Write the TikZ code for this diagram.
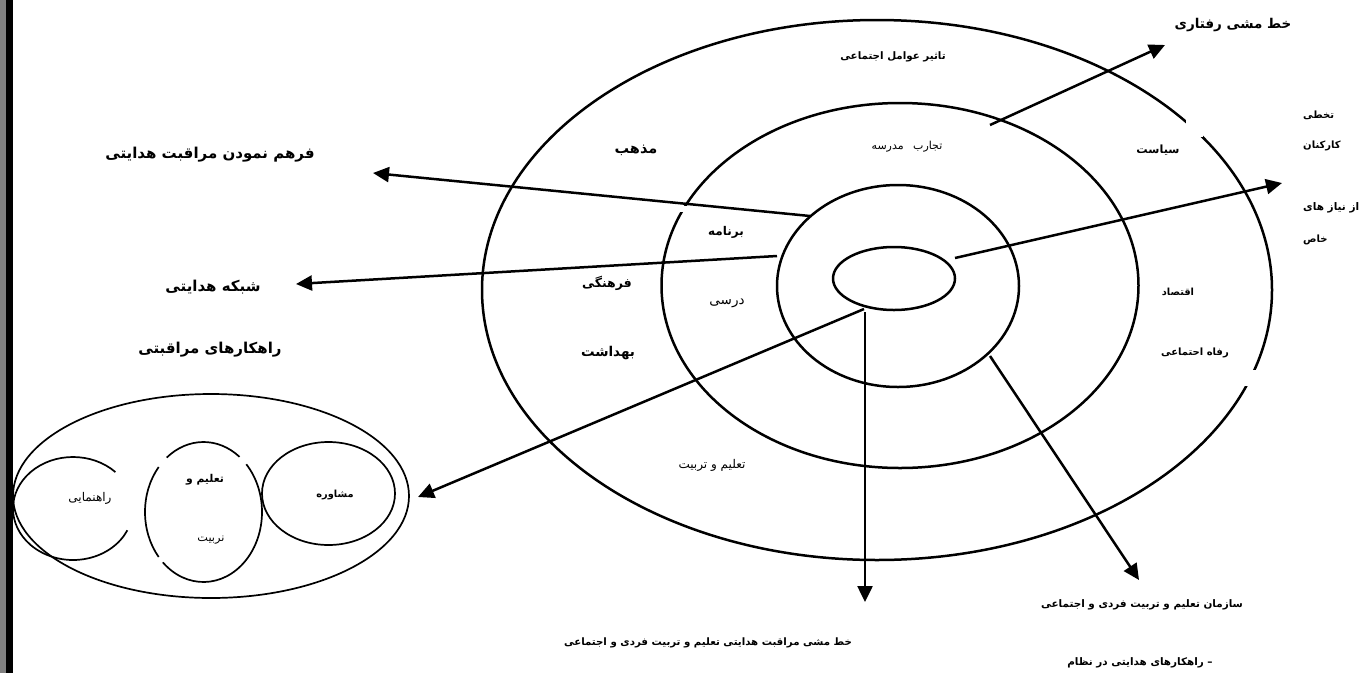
\documentclass[tikz,border=0pt]{standalone}
\usepackage{fontspec}
\usetikzlibrary{arrows.meta,shapes.geometric}
\newfontfamily\arabicfont[Script=Arabic]{DejaVu Sans}
\TeXXeTstate=1
\tikzset{
  ring/.style={draw, ellipse, line width=2.5pt, inner sep=0pt, outer sep=0pt},
  thin ring/.style={draw, ellipse, line width=1.7pt, inner sep=0pt, outer sep=0pt},
  thin arc/.style={line width=1.7pt},
  arr/.style={line width=2.5pt, -{Triangle[length=16pt,width=15pt]}},
  bl/.style={font=\arabicfont\fontsize{#1}{#1}\selectfont\bfseries, inner sep=1pt},
  nl/.style={font=\arabicfont\fontsize{#1}{#1}\selectfont, inner sep=1pt},
}
\begin{document}
\begin{tikzpicture}[x=1pt,y=-1pt]
\useasboundingbox (0,0) rectangle (1361,673);
\fill[white] (0,0) rectangle (1361,673);
% left border bars
\fill[gray] (0,0) rectangle (6,673);
\fill[black] (6,0) rectangle (13,673);

% concentric ellipses
\node[ring, minimum width=790pt, minimum height=540pt] (outer) at (877,290) {};
\node[ring, minimum width=477pt, minimum height=365pt] (middle) at (900,285.5) {};
\node[ring, minimum width=242pt, minimum height=202pt] (inner) at (898,286) {};
\node[ring, minimum width=122pt, minimum height=63pt] (core) at (894,278.5) {};
% gaps
\fill[white] (1186,120) rectangle (1203,137);
\fill[white] (1243,370) rectangle (1262,386);
\fill[white] (678,206) rectangle (694,212);

% left group
\node[thin ring, minimum width=396pt, minimum height=204pt] (group) at (211,496) {};
\draw[thin arc] ([shift={(45:60pt and 51.5pt)}]73,508.5) arc[start angle=45, end angle=335, x radius=60pt, y radius=51.5pt];
\draw[thin arc] ([shift={(52:58.5pt and 70pt)}]203.5,512) arc[start angle=52, end angle=129, x radius=58.5pt, y radius=70pt];
\draw[thin arc] ([shift={(140:58.5pt and 70pt)}]203.5,512) arc[start angle=140, end angle=220, x radius=58.5pt, y radius=70pt];
\draw[thin arc] ([shift={(226:58.5pt and 70pt)}]203.5,512) arc[start angle=226, end angle=403, x radius=58.5pt, y radius=70pt];
\node[thin ring, minimum width=133pt, minimum height=103pt] (moshcirc) at (328.5,493.5) {};

% arrow end points
\coordinate (s1) at (810,216);  \coordinate (e1) at (373,173);
\coordinate (s2) at (777,256);  \coordinate (e2) at (296,284);
\coordinate (s3) at (864,309);  \coordinate (e3) at (418,497);
\coordinate (s4) at (865,312);  \coordinate (e4) at (865,602);
\coordinate (s5) at (990,356);  \coordinate (e5) at (1139,580);
\coordinate (s6) at (955,258);  \coordinate (e6) at (1282,183);
\coordinate (s7) at (990,125);  \coordinate (e7) at (1165,45);
\draw[arr] (s1) -- (e1);
\draw[arr] (s2) -- (e2);
\draw[arr] (s3) -- (e3);
\draw[arr] (s4) -- (e4);
\draw[arr] (s5) -- (e5);
\draw[arr] (s6) -- (e6);
\draw[arr] (s7) -- (e7);

% labels
\node[bl=13.5] (trafteri) at (1233,25) {\beginR خط مشی رفتاری\endR};
\node[bl=10.3] (ttaasir) at (893,57) {\beginR تاثیر عوامل اجتماعی\endR};
\node[nl=11] (ttajarob) at (907,147) {\beginR تجارب\hspace{6pt} مدرسه\endR};
\node[bl=14.5] (tmazhab) at (636,150) {\beginR مذهب\endR};
\node[bl=11.3] (tsiasat) at (1158,150) {\beginR سیاست\endR};
\node[bl=15] (tfarham) at (210,155) {\beginR فرهم نمودن مراقبت هدایتی\endR};
\node[bl=12] (tbarname) at (726,232) {\beginR برنامه\endR};
\node[bl=15] (tshabake) at (213,287) {\beginR شبکه هدایتی\endR};
\node[bl=12.5] (tfarhangi) at (607,283) {\beginR فرهنگی\endR};
\node[nl=13.5] (tdarsi) at (727,303) {\beginR درسی\endR};
\node[bl=15] (trahkar) at (210,350) {\beginR راهکارهای مراقبتی\endR};
\node[bl=13.5] (tbehdasht) at (608,353) {\beginR بهداشت\endR};
\node[bl=9.8] (teqtesad) at (1178,292) {\beginR اقتصاد\endR};
\node[bl=10] (trefah) at (1195,353) {\beginR رفاه احتماعی\endR};
\node[nl=12] (ttalim) at (712,465) {\beginR تعلیم و تربیت\endR};
\node[bl=9.8] (tmoshavere) at (335,495) {\beginR مشاوره\endR};
\node[nl=12] (trahnamai) at (90,498) {\beginR راهنمایی\endR};
\node[bl=10.8] (ttalimva) at (205,480) {\beginR تعلیم و\endR};
\node[nl=11.3] (ttarbiat) at (211,540) {\beginR نربیت\endR};
\node[bl=10, anchor=west] (r1) at (1302,115) {\beginR تخطی\endR};
\node[bl=10, anchor=west] (r2) at (1302,146) {\beginR کارکنان\endR};
\node[bl=10.5, anchor=west] (r3) at (1302,208) {\beginR از نیاز های\endR};
\node[bl=10, anchor=west] (r4) at (1302,240) {\beginR خاص\endR};
\node[bl=10.2] (tb1) at (708,643) {\beginR خط مشی مراقبت هدایتی تعلیم و تربیت فردی و اجتماعی\endR};
\node[bl=10.4] (tb2) at (1142,605) {\beginR سازمان تعلیم و تربیت فردی و اجتماعی\endR};
\node[bl=10.4] (tb3) at (1140,663) {\beginR – راهکارهای هدایتی در نظام\endR};
\end{tikzpicture}
\end{document}
